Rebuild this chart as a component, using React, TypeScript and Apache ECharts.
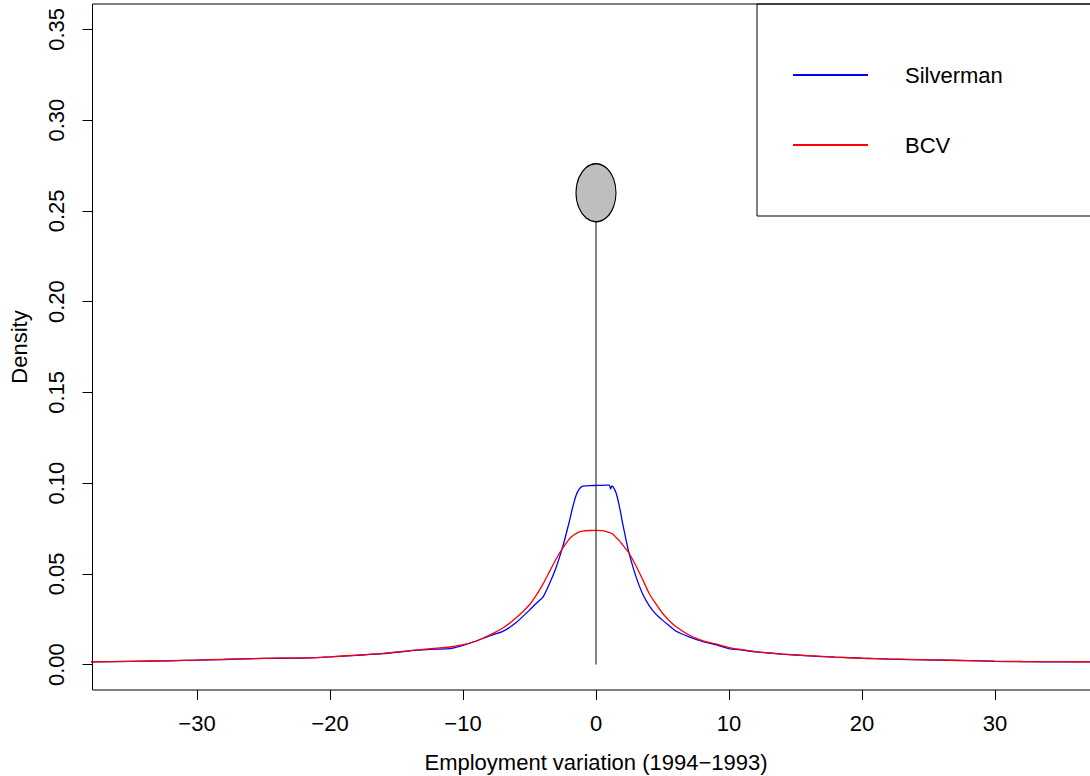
import React, { useEffect, useRef } from "react";
import * as echarts from "echarts";

// Grid of evaluation points (employment variation)
const xGrid = [
  -38, -35, -32, -30, -28, -25, -22, -20, -18, -16, -14, -12, -11, -10, -9, -8, -7, -6, -5, -4.5, -4,
  -3.5, -3, -2.5, -2, -1.75, -1.5, -1.25, -1, -0.5, 0, 0.5, 1, 1.1, 1.2, 1.3, 1.5, 1.75, 2, 2.25, 2.5, 3,
  3.5, 4, 4.5, 5, 5.5, 6, 7, 8, 9, 10, 11, 12, 14, 16, 18, 20, 22, 25, 28, 30, 32, 35, 38,
];

// Kernel density, Silverman bandwidth
const silverman = [
  0.0015, 0.0018, 0.0021, 0.0025, 0.0028, 0.0034, 0.0036, 0.0042, 0.0051, 0.006, 0.0076, 0.0085, 0.0088,
  0.0106, 0.013, 0.0158, 0.0183, 0.0232, 0.03, 0.0337, 0.037, 0.0445, 0.0535, 0.065, 0.079, 0.0868, 0.0932,
  0.0968, 0.0983, 0.0986, 0.0987, 0.0988, 0.0989, 0.0968, 0.0985, 0.0978, 0.0948, 0.0875, 0.078, 0.069,
  0.061, 0.0486, 0.039, 0.0325, 0.0278, 0.0245, 0.0215, 0.0185, 0.0153, 0.0128, 0.011, 0.0088, 0.008,
  0.007, 0.0058, 0.0048, 0.0041, 0.0035, 0.003, 0.0026, 0.0022, 0.0018, 0.0016, 0.0015, 0.0015,
];

// Kernel density, BCV bandwidth
const bcv = [
  0.0015, 0.0018, 0.0022, 0.0025, 0.0029, 0.0034, 0.0037, 0.0043, 0.0052, 0.0062, 0.0077, 0.009, 0.0097,
  0.011, 0.013, 0.0163, 0.0202, 0.0258, 0.033, 0.0381, 0.0442, 0.0512, 0.0582, 0.0642, 0.0693, 0.071,
  0.0722, 0.0731, 0.0736, 0.0739, 0.074, 0.0738, 0.0728, 0.0725, 0.0721, 0.0717, 0.0702, 0.0683, 0.066,
  0.0637, 0.0612, 0.0545, 0.047, 0.0392, 0.0335, 0.0283, 0.0243, 0.021, 0.0163, 0.0132, 0.0114, 0.0094,
  0.0082, 0.0071, 0.0058, 0.0049, 0.0041, 0.0035, 0.0031, 0.0026, 0.0022, 0.0019, 0.0017, 0.0016, 0.0015,
];

const xTicks = [-30, -20, -10, 0, 10, 20, 30];
const yTicks = [0, 0.05, 0.1, 0.15, 0.2, 0.25, 0.3, 0.35];
const seriesNames = ["Silverman", "BCV"];
const markerX = 0;
const markerY = 0.26;

const FONT = "'Liberation Sans', Arial, Helvetica, sans-serif";

export default function App() {
  const ref = useRef<HTMLDivElement>(null);
  useEffect(() => {
    if (!ref.current) return;
    const chart = echarts.init(ref.current, null, { renderer: "svg" });
    const fmtX = (v: number) => (v < 0 ? "\u2212" + Math.abs(v) : String(v));
    chart.setOption({
      animation: false,
      backgroundColor: "#fff",
      textStyle: { fontFamily: FONT },
      grid: {
        left: 92.5,
        right: -9.5,
        top: 4,
        bottom: 86,
        show: true,
        borderColor: "#000",
        borderWidth: 1,
        containLabel: false,
        outerBoundsMode: "none",
      },
      legend: {
        type: "plain",
        orient: "vertical",
        left: 757,
        top: 4,
        padding: [60, 110, 60, 36],
        itemGap: 48,
        itemWidth: 75,
        itemHeight: 2,
        icon: "rect",
        borderColor: "#000",
        borderWidth: 1,
        borderRadius: 0,
        data: seriesNames,
        textStyle: { fontSize: 22, color: "#000", fontFamily: FONT, padding: [0, 0, 0, 32] },
      },
      xAxis: {
        type: "value",
        min: -37.86,
        max: 37.86,
        name: "Employment variation (1994\u22121993)",
        nameLocation: "middle",
        nameGap: 61,
        nameTextStyle: { fontSize: 22, color: "#000", fontFamily: FONT },
        axisLine: { show: false, onZero: false },
        splitLine: { show: false },
        axisTick: {
          show: true,
          length: 10,
          inside: false,
          customValues: xTicks,
          lineStyle: { color: "#000", width: 1 },
        },
        axisLabel: {
          customValues: xTicks,
          formatter: fmtX,
          fontSize: 22,
          color: "#000",
          margin: 22,
          fontFamily: FONT,
        },
      },
      yAxis: {
        type: "value",
        min: -0.014,
        max: 0.364,
        name: "Density",
        nameLocation: "middle",
        nameGap: 62,
        nameRotate: 90,
        nameTextStyle: { fontSize: 22, color: "#000", fontFamily: FONT },
        axisLine: { show: false, onZero: false },
        splitLine: { show: false },
        axisTick: {
          show: true,
          length: 10,
          inside: false,
          customValues: yTicks,
          lineStyle: { color: "#000", width: 1 },
        },
        axisLabel: {
          customValues: yTicks,
          formatter: (v: number) => v.toFixed(2),
          rotate: 90,
          fontSize: 22,
          color: "#000",
          margin: 25,
          fontFamily: FONT,
        },
      },
      series: [
        {
          name: seriesNames[0],
          type: "line",
          color: "#0000FF",
          showSymbol: false,
          symbol: "none",
          smooth: 0.15,
          lineStyle: { width: 1.3, color: "#0000FF" },
          data: xGrid.map((x, i) => [x, silverman[i]]),
          z: 2,
        },
        {
          name: seriesNames[1],
          type: "line",
          color: "#FF0000",
          showSymbol: false,
          symbol: "none",
          smooth: 0.3,
          lineStyle: { width: 1.3, color: "#FF0000" },
          data: xGrid.map((x, i) => [x, bcv[i]]),
          z: 3,
        },
        {
          name: "stem",
          type: "line",
          showSymbol: false,
          symbol: "none",
          lineStyle: { width: 1.2, color: "#333" },
          data: [
            [markerX, 0],
            [markerX, markerY],
          ],
          z: 4,
        },
        {
          name: "marker",
          type: "scatter",
          symbol: "circle",
          symbolSize: [40, 58],
          itemStyle: { color: "#BEBEBE", borderColor: "#000", borderWidth: 1.3, opacity: 1 },
          data: [[markerX, markerY]],
          z: 5,
        },
      ],
    });
    return () => chart.dispose();
  }, []);
  return (
    <div
      style={{ position: "fixed", left: 0, top: 0, width: 1090, height: 776, overflow: "hidden", background: "#fff" }}
    >
      <div ref={ref} style={{ width: 1090, height: 776 }} />
    </div>
  );
}
